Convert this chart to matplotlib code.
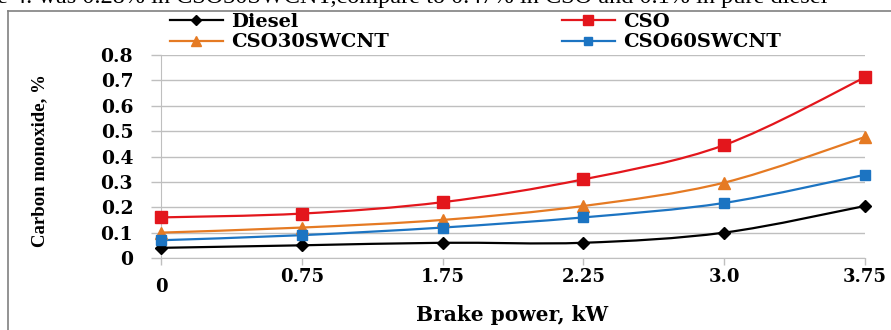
import matplotlib
matplotlib.use("Agg")
import matplotlib.pyplot as plt
from matplotlib.path import Path
from matplotlib.patches import PathPatch
from matplotlib.lines import Line2D
from matplotlib.transforms import ScaledTranslation

# data
power_labels = ["0", "0.75", "1.75", "2.25", "3.0", "3.75"]
diesel = [0.04, 0.05, 0.06, 0.06, 0.10, 0.205]
cso = [0.16, 0.175, 0.22, 0.31, 0.445, 0.712]
cso30 = [0.10, 0.12, 0.15, 0.205, 0.297, 0.477]
cso60 = [0.07, 0.09, 0.12, 0.16, 0.217, 0.328]

series = [
    ("Diesel", diesel, "#000000", "D", 6.5),
    ("CSO", cso, "#E3161C", "s", 8.5),
    ("CSO30SWCNT", cso30, "#E57A23", "^", 8),
    ("CSO60SWCNT", cso60, "#1C74C2", "s", 7.5),
]

W, H = 891, 330
BOLD = dict(family="DejaVu Serif", weight="bold")


def smooth_path(xs, ys):
    # excel-like smoothed line: catmull-rom segments as cubic beziers
    verts = [(xs[0], ys[0])]
    codes = [Path.MOVETO]
    n = len(xs)
    for i in range(n - 1):
        x0, y0 = (xs[i - 1], ys[i - 1]) if i > 0 else (xs[i], ys[i])
        x1, y1 = xs[i], ys[i]
        x2, y2 = xs[i + 1], ys[i + 1]
        x3, y3 = (xs[i + 2], ys[i + 2]) if i + 2 < n else (x2, y2)
        c1 = (x1 + (x2 - x0) / 6, y1 + (y2 - y0) / 6)
        c2 = (x2 - (x3 - x1) / 6, y2 - (y3 - y1) / 6)
        verts += [c1, c2, (x2, y2)]
        codes += [Path.CURVE4] * 3
    return Path(verts, codes)


fig = plt.figure(figsize=(W / 100, H / 100), dpi=100)
ax = fig.add_axes([161 / W, 1 - 258 / H, (865 - 161) / W, (258 - 55) / H])

xs = list(range(len(power_labels)))
handles = []
for name, vals, color, marker, ms in series:
    ax.add_patch(PathPatch(smooth_path(xs, vals), fill=False, edgecolor=color,
                           lw=1.6, clip_on=False, zorder=3))
    ax.plot(xs, vals, ls="none", marker=marker, ms=ms, color=color,
            clip_on=False, zorder=4)
    handles.append(Line2D([], [], color=color, lw=1.6, marker=marker, ms=ms * 0.85))

ax.set_xlim(0, len(xs) - 1)
ax.set_ylim(0, 0.8)
yt = [i / 10 for i in range(9)]
ax.set_yticks(yt)
ax.set_yticklabels(["0"] + [f"{v:.1f}" for v in yt[1:]], fontsize=13.5, **BOLD)
ax.set_xticks(xs)
ax.set_xticklabels(power_labels, fontsize=13, **BOLD)
ax.grid(axis="y", color="#BFBFBF", lw=1)
ax.set_axisbelow(True)
for s in ["top", "right"]:
    ax.spines[s].set_visible(False)
for s in ["left", "bottom"]:
    ax.spines[s].set_color("#BFBFBF")
ax.tick_params(axis="y", direction="out", length=7, width=1, color="#BFBFBF", pad=13)
ax.tick_params(axis="x", direction="out", length=5, width=1, color="#BFBFBF", pad=2)

# the "0" label sits lower than the others
lbl0 = ax.get_xticklabels()[0]
lbl0.set_transform(lbl0.get_transform() + ScaledTranslation(0, -10 / 100, fig.dpi_scale_trans))

fig.text(40 / W, 1 - 161 / H, "Carbon monoxide, %", rotation=90, ha="center", va="center",
         fontsize=13.5, family="Liberation Serif", weight="bold")
fig.text(512 / W, 1 - 315 / H, "Brake power, kW", ha="center", va="center",
         fontsize=14.5, **BOLD)

order = [0, 2, 1, 3]
fig.legend([handles[i] for i in order], [series[i][0] for i in order],
           loc="upper left", bbox_to_anchor=(170 / W, 1 - 13 / H), ncol=2,
           frameon=False, borderpad=0, borderaxespad=0, labelspacing=0.12,
           handlelength=2.7, handletextpad=0.45, columnspacing=8.9,
           prop=dict(size=14, **BOLD))

# page frame and the cut-off caption above it
fig.add_artist(Line2D([8 / W, 8 / W], [0, 1 - 11 / H], color="#808080", lw=1.2))
fig.add_artist(Line2D([8 / W, 1], [1 - 11 / H, 1 - 11 / H], color="#808080", lw=1.2))
fig.text(-3 / W, 1 - 3 / H,
         "e 4. was 0.28% in CSO30SWCNT,compare to 0.47% in CSO and 0.1% in pure diesel",
         ha="left", va="baseline", fontsize=17.5, family="Liberation Serif")

fig.savefig("out.png", dpi=100)
